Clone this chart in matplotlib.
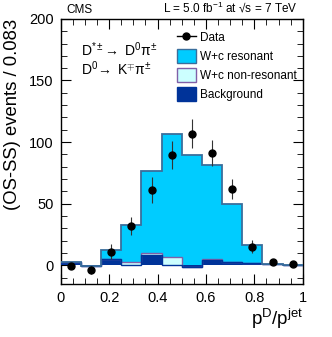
import numpy as np
import matplotlib
matplotlib.use("Agg")
import matplotlib.pyplot as plt
from matplotlib.patches import Patch
from matplotlib.lines import Line2D

edges = np.linspace(0, 1, 13)
centers = 0.5 * (edges[:-1] + edges[1:])

# stacked components
background = [2.4, -0.5, 5.2, 0.5, 8.1, 0.3, -1.5, 4.0, 2.4, 1.9, 1.1, 0.5]
nonresonant = [0.0, 0.0, 0.0, 2.0, 2.0, 6.5, 0.0, 1.0, 0.0, 0.0, 0.0, 0.0]
resonant = [0.0, 0.0, 7.5, 30.3, 66.3, 100.0, 90.7, 76.0, 47.5, 14.4, 0.0, 0.0]

data = [-0.8, -4.0, 11.1, 32.0, 61.0, 89.7, 106.8, 91.0, 62.0, 15.2, 3.0, 1.0]
data_err = [1.5, 3.3, 6.0, 7.3, 10.5, 11.5, 12.0, 10.5, 8.0, 5.0, 1.5, 1.0]

plt.rcParams['font.family'] = ['Liberation Sans', 'DejaVu Sans']
plt.rcParams['mathtext.fontset'] = 'custom'
plt.rcParams['mathtext.rm'] = 'Liberation Sans'
plt.rcParams['mathtext.it'] = 'Liberation Sans'
plt.rcParams['mathtext.bf'] = 'Liberation Sans:bold'

c_res = "#00ccff"
c_res_edge = "#3a6e9c"
c_non = "#ccffff"
c_non_edge = "#8060a8"
c_bkg = "#003399"

fig = plt.figure(figsize=(3.32, 3.37), dpi=100)
ax = fig.add_axes([0.183, 0.158, 0.729, 0.786])

bkg = np.array(background)
non_top = bkg + np.array(nonresonant)
tot = non_top + np.array(resonant)

ax.stairs(tot, edges, baseline=non_top, fill=True, color=c_res, zorder=1)
ax.stairs(non_top, edges, baseline=bkg, fill=True, color=c_non, zorder=2)
ax.stairs(bkg, edges, baseline=0, fill=True, color=c_bkg, zorder=3)
ax.stairs(non_top, edges, baseline=None, color=c_non_edge, lw=1.0, zorder=4)
ax.stairs(bkg, edges, baseline=None, color=c_bkg, lw=1.0, zorder=4)
ax.stairs(tot, edges, baseline=None, color=c_res_edge, lw=1.3, zorder=5)

ax.errorbar(centers, data, yerr=data_err, fmt='o', color='black', ms=5,
            elinewidth=0.8, ecolor='#333333', capsize=0, zorder=6)

ax.set_xlim(0, 1)
ax.set_ylim(-15, 200)
ax.set_xticks(np.arange(0, 1.01, 0.2))
ax.set_xticklabels(["0", "0.2", "0.4", "0.6", "0.8", "1"])
ax.set_xticks(np.arange(0, 1.001, 0.05), minor=True)
ax.set_yticks(np.arange(0, 201, 50))
ax.set_yticks(np.arange(-10, 201, 10), minor=True)
ax.tick_params(which='both', direction='in', top=True, right=True, labelsize=10.5)
ax.tick_params(which='major', length=7, pad=5)
ax.tick_params(which='minor', length=4)
for s in ax.spines.values():
    s.set_linewidth(1.0)

ax.set_ylabel("(OS-SS) events / 0.083", fontsize=13.3)
ax.yaxis.set_label_coords(-0.165, 1.0)
ax.yaxis.label.set_horizontalalignment('right')
fig.text(0.912, 0.035, r"p$^{\rm D}$/p$^{\rm jet}$", fontsize=13.5, ha='right', va='baseline')

fig.text(0.20, 0.962, "CMS", fontsize=8.5, va='baseline')
fig.text(0.895, 0.962, "L = 5.0 fb$^{-1}$ at \u221as = 7 TeV", fontsize=8.5,
         ha='right', va='baseline')

ax.text(0.085, 0.885, r"D$^{*\pm}\!\rightarrow$ D$^{0}\pi^{\pm}$", transform=ax.transAxes,
        fontsize=10, va='center')
ax.text(0.085, 0.81, r"D$^{0}\!\rightarrow$ K$^{\mp}\pi^{\pm}$", transform=ax.transAxes,
        fontsize=10, va='center')

handles = [
    Line2D([], [], color='black', marker='o', ms=5, lw=1.0),
    Patch(facecolor=c_res, edgecolor=c_res_edge, lw=1.0),
    Patch(facecolor=c_non, edgecolor=c_non_edge, lw=1.0),
    Patch(facecolor=c_bkg, edgecolor=c_bkg, lw=1.0),
]
labels = ["Data", "W+c resonant", "W+c non-resonant", "Background"]
ax.legend(handles, labels, loc='upper left', bbox_to_anchor=(0.46, 0.975), frameon=False,
          fontsize=8.5, handlelength=1.6, handleheight=1.4, handletextpad=0.4,
          labelspacing=0.45, borderaxespad=0)

fig.savefig("out.png", dpi=100)
